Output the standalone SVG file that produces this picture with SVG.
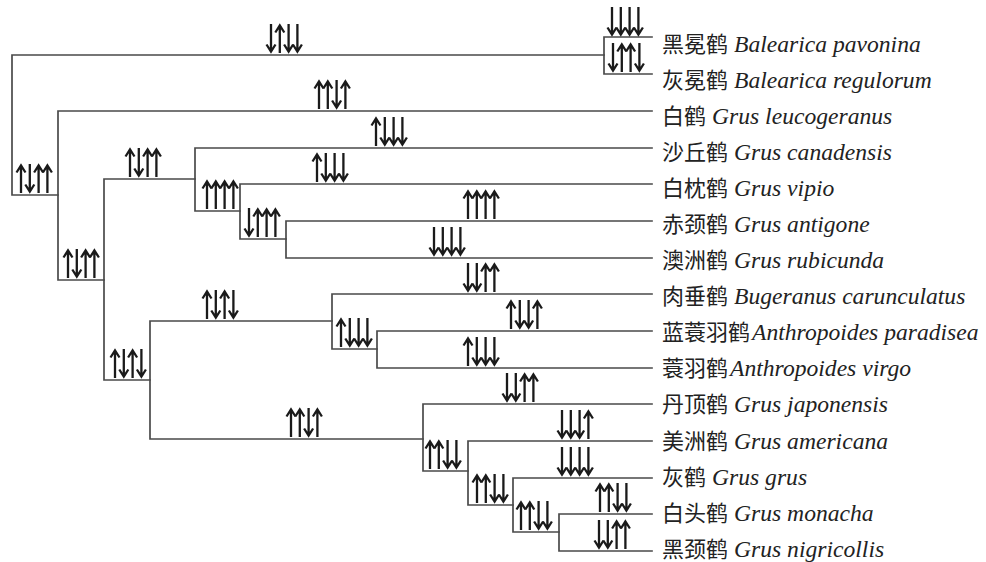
<svg xmlns="http://www.w3.org/2000/svg" width="986" height="562" viewBox="0 0 986 562">
<style>
.br{fill:none;stroke:#4a4a4a;stroke-width:1.7;stroke-linecap:square}
.ar{fill:none;stroke:#1a1a1a;stroke-width:2.3;stroke-linecap:butt;stroke-linejoin:miter}
.lb{fill:#222}
.cn{font-family:"Noto Sans CJK SC","Noto Sans",sans-serif;font-size:22px}
.la{font-family:"Liberation Serif","Times New Roman",serif;font-style:italic;font-size:23.6px}
</style>
<defs>
<path id="u" class="ar" d="M0,29V1.5M-4.5,8.5L0,1.5L4.5,8.5"/>
<path id="d" class="ar" d="M0,0V27.5M-4.5,20.5L0,27.5L4.5,20.5"/>
</defs>
<rect width="986" height="562" fill="#fff"/>
<g id="connectors">
<path class="br" d="M604,55H12V195H58"/>
<path class="br" d="M652,37H604V74H652"/>
<path class="br" d="M652,111H58V280H104"/>
<path class="br" d="M195,179H104V380H150"/>
<path class="br" d="M652,148H195V211H240"/>
<path class="br" d="M652,184H240V239H286"/>
<path class="br" d="M652,221H286V258H652"/>
<path class="br" d="M332,321H150V439H423"/>
<path class="br" d="M652,294H332V349H377"/>
<path class="br" d="M652,331H377V368H652"/>
<path class="br" d="M652,404H423V471H468"/>
<path class="br" d="M652,441H468V505H513"/>
<path class="br" d="M652,478H513V532H559"/>
<path class="br" d="M652,514H559V551H652"/>
</g>
<g id="arrows">
<g id="m1" transform="translate(271,24)"><use href="#d" x="0"/><use href="#u" x="8.8"/><use href="#d" x="17.6"/><use href="#d" x="26.4"/></g>
<g id="m2" transform="translate(21,164)"><use href="#u" x="0"/><use href="#d" x="8.8"/><use href="#u" x="17.6"/><use href="#u" x="26.4"/></g>
<g id="m3" transform="translate(319,80)"><use href="#u" x="0"/><use href="#u" x="8.8"/><use href="#d" x="17.6"/><use href="#u" x="26.4"/></g>
<g id="m4" transform="translate(376,117)"><use href="#u" x="0"/><use href="#d" x="8.8"/><use href="#d" x="17.6"/><use href="#d" x="26.4"/></g>
<g id="m5" transform="translate(130,148)"><use href="#u" x="0"/><use href="#d" x="8.8"/><use href="#u" x="17.6"/><use href="#u" x="26.4"/></g>
<g id="m6" transform="translate(207,180)"><use href="#u" x="0"/><use href="#u" x="8.8"/><use href="#u" x="17.6"/><use href="#u" x="26.4"/></g>
<g id="m7" transform="translate(317,153)"><use href="#u" x="0"/><use href="#d" x="8.8"/><use href="#d" x="17.6"/><use href="#d" x="26.4"/></g>
<g id="m8" transform="translate(249,208)"><use href="#d" x="0"/><use href="#u" x="8.8"/><use href="#u" x="17.6"/><use href="#u" x="26.4"/></g>
<g id="m9" transform="translate(468,190)"><use href="#u" x="0"/><use href="#u" x="8.8"/><use href="#u" x="17.6"/><use href="#u" x="26.4"/></g>
<g id="m10" transform="translate(434,227)"><use href="#d" x="0"/><use href="#d" x="8.8"/><use href="#d" x="17.6"/><use href="#d" x="26.4"/></g>
<g id="m11" transform="translate(115,349)"><use href="#u" x="0"/><use href="#d" x="8.8"/><use href="#u" x="17.6"/><use href="#d" x="26.4"/></g>
<g id="m12" transform="translate(207,290)"><use href="#u" x="0"/><use href="#d" x="8.8"/><use href="#u" x="17.6"/><use href="#d" x="26.4"/></g>
<g id="m13" transform="translate(468,263)"><use href="#d" x="0"/><use href="#d" x="8.8"/><use href="#u" x="17.6"/><use href="#u" x="26.4"/></g>
<g id="m14" transform="translate(341,318)"><use href="#u" x="0"/><use href="#d" x="8.8"/><use href="#d" x="17.6"/><use href="#d" x="26.4"/></g>
<g id="m15" transform="translate(511,300)"><use href="#u" x="0"/><use href="#d" x="8.8"/><use href="#d" x="17.6"/><use href="#u" x="26.4"/></g>
<g id="m16" transform="translate(468,337)"><use href="#u" x="0"/><use href="#d" x="8.8"/><use href="#d" x="17.6"/><use href="#d" x="26.4"/></g>
<g id="m17" transform="translate(291,408)"><use href="#u" x="0"/><use href="#u" x="8.8"/><use href="#d" x="17.6"/><use href="#u" x="26.4"/></g>
<g id="m18" transform="translate(507,373)"><use href="#d" x="0"/><use href="#d" x="8.8"/><use href="#u" x="17.6"/><use href="#u" x="26.4"/></g>
<g id="m19" transform="translate(430,440)"><use href="#u" x="0"/><use href="#u" x="8.8"/><use href="#d" x="17.6"/><use href="#d" x="26.4"/></g>
<g id="m20" transform="translate(562,410)"><use href="#d" x="0"/><use href="#d" x="8.8"/><use href="#d" x="17.6"/><use href="#u" x="26.4"/></g>
<g id="m21" transform="translate(477,474)"><use href="#u" x="0"/><use href="#u" x="8.8"/><use href="#d" x="17.6"/><use href="#d" x="26.4"/></g>
<g id="m22" transform="translate(562,447)"><use href="#d" x="0"/><use href="#d" x="8.8"/><use href="#d" x="17.6"/><use href="#d" x="26.4"/></g>
<g id="m23" transform="translate(521,501)"><use href="#u" x="0"/><use href="#u" x="8.8"/><use href="#d" x="17.6"/><use href="#d" x="26.4"/></g>
<g id="m24" transform="translate(600,483)"><use href="#u" x="0"/><use href="#u" x="8.8"/><use href="#d" x="17.6"/><use href="#d" x="26.4"/></g>
<g id="m25" transform="translate(599,520)"><use href="#d" x="0"/><use href="#d" x="8.8"/><use href="#u" x="17.6"/><use href="#u" x="26.4"/></g>
<g id="m26" transform="translate(612,7)"><use href="#d" x="0"/><use href="#d" x="8.8"/><use href="#d" x="17.6"/><use href="#d" x="26.4"/></g>
<g id="m27" transform="translate(613,43)"><use href="#d" x="0"/><use href="#u" x="8.8"/><use href="#u" x="17.6"/><use href="#d" x="26.4"/></g>
<g id="m28" transform="translate(68,249)"><use href="#u" x="0"/><use href="#d" x="8.8"/><use href="#u" x="17.6"/><use href="#u" x="26.4"/></g>
</g>
<g id="leaf-pavonina"><text class="lb" x="662" y="51.7"><tspan class="cn">黑冕鹤</tspan><tspan class="la" dx="6">Balearica pavonina</tspan></text></g>
<g id="leaf-regulorum"><text class="lb" x="662" y="87.8"><tspan class="cn">灰冕鹤</tspan><tspan class="la" dx="6">Balearica regulorum</tspan></text></g>
<g id="leaf-leucogeranus"><text class="lb" x="662" y="123.8"><tspan class="cn">白鹤</tspan><tspan class="la" dx="6">Grus leucogeranus</tspan></text></g>
<g id="leaf-canadensis"><text class="lb" x="662" y="159.9"><tspan class="cn">沙丘鹤</tspan><tspan class="la" dx="6">Grus canadensis</tspan></text></g>
<g id="leaf-vipio"><text class="lb" x="662" y="196"><tspan class="cn">白枕鹤</tspan><tspan class="la" dx="6">Grus vipio</tspan></text></g>
<g id="leaf-antigone"><text class="lb" x="662" y="232"><tspan class="cn">赤颈鹤</tspan><tspan class="la" dx="6">Grus antigone</tspan></text></g>
<g id="leaf-rubicunda"><text class="lb" x="662" y="268.1"><tspan class="cn">澳洲鹤</tspan><tspan class="la" dx="6">Grus rubicunda</tspan></text></g>
<g id="leaf-carunculatus"><text class="lb" x="662" y="304.2"><tspan class="cn">肉垂鹤</tspan><tspan class="la" dx="6">Bugeranus carunculatus</tspan></text></g>
<g id="leaf-paradisea"><text class="lb" x="662" y="340.3"><tspan class="cn">蓝蓑羽鹤</tspan><tspan class="la" dx="2">Anthropoides paradisea</tspan></text></g>
<g id="leaf-virgo"><text class="lb" x="662" y="376.3"><tspan class="cn">蓑羽鹤</tspan><tspan class="la" dx="2">Anthropoides virgo</tspan></text></g>
<g id="leaf-japonensis"><text class="lb" x="662" y="412.4"><tspan class="cn">丹顶鹤</tspan><tspan class="la" dx="6">Grus japonensis</tspan></text></g>
<g id="leaf-americana"><text class="lb" x="662" y="448.5"><tspan class="cn">美洲鹤</tspan><tspan class="la" dx="6">Grus americana</tspan></text></g>
<g id="leaf-grus"><text class="lb" x="662" y="484.5"><tspan class="cn">灰鹤</tspan><tspan class="la" dx="6">Grus grus</tspan></text></g>
<g id="leaf-monacha"><text class="lb" x="662" y="520.6"><tspan class="cn">白头鹤</tspan><tspan class="la" dx="6">Grus monacha</tspan></text></g>
<g id="leaf-nigricollis"><text class="lb" x="662" y="556.7"><tspan class="cn">黑颈鹤</tspan><tspan class="la" dx="6">Grus nigricollis</tspan></text></g>
</svg>
